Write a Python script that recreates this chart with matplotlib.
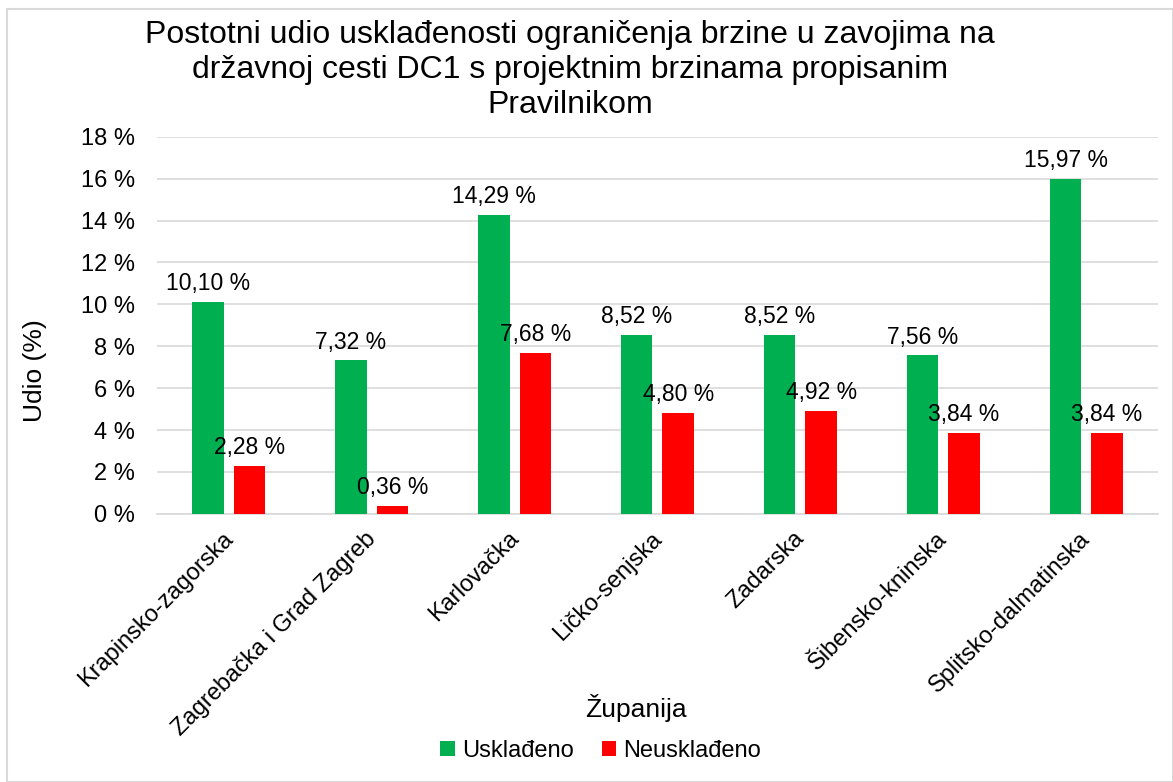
import numpy as np
import matplotlib.pyplot as plt
import matplotlib.transforms as mtransforms
from matplotlib.patches import Rectangle

plt.rcParams['font.family'] = ['Liberation Sans', 'DejaVu Sans']

# Data
zupanije = ['Krapinsko-zagorska', 'Zagrebačka i Grad Zagreb', 'Karlovačka',
            'Ličko-senjska', 'Zadarska', 'Šibensko-kninska', 'Splitsko-dalmatinska']
uskladeno = [10.10, 7.32, 14.29, 8.52, 8.52, 7.56, 15.97]
neuskladeno = [2.28, 0.36, 7.68, 4.80, 4.92, 3.84, 3.84]

green = '#00b050'
red = '#ff0000'

fig = plt.figure(figsize=(11.73, 7.82), dpi=100)
ax = fig.add_axes([0.134, 0.343, 0.853, 0.482])

x = np.arange(len(zupanije))
w = 0.22
off = 0.145
b1 = ax.bar(x - off, uskladeno, w, color=green, label='Usklađeno', zorder=3)
b2 = ax.bar(x + off, neuskladeno, w, color=red, label='Neusklađeno', zorder=3)

def fmt(v):
    return f'{v:.2f}'.replace('.', ',') + ' %'

for bars, vals in [(b1, uskladeno), (b2, neuskladeno)]:
    for bar, v in zip(bars, vals):
        ax.annotate(fmt(v), (bar.get_x() + bar.get_width() / 2, v),
                    xytext=(0, 5), textcoords='offset points',
                    ha='center', va='bottom', fontsize=16.5)

ax.set_xlim(-0.5, len(zupanije) - 0.5)
ax.set_ylim(0, 18)
ax.set_yticks(np.arange(0, 19, 2))
ax.set_yticklabels([f'{t} %' for t in range(0, 19, 2)], fontsize=17)
ax.set_xticks(x)
ax.set_xticklabels(zupanije, rotation=45, ha='right', rotation_mode='anchor', fontsize=17)
ax.tick_params(axis='y', length=0, pad=16)
ax.tick_params(axis='x', length=0, pad=10)
# nudge rotated category labels a little to the left
shift = mtransforms.ScaledTranslation(-7 / 100, 0, fig.dpi_scale_trans)
for lbl in ax.get_xticklabels():
    lbl.set_transform(lbl.get_transform() + shift)
ax.grid(axis='y', color='#d9d9d9', linewidth=1.2, zorder=0)
for s in ['top', 'right', 'left']:
    ax.spines[s].set_visible(False)
ax.spines['bottom'].set_color('#d9d9d9')
ax.spines['bottom'].set_linewidth(1.2)

fig.text(0.030, 0.526, 'Udio (%)', rotation=90, ha='center', va='center', fontsize=19)
fig.text(0.542, 0.095, 'Županija', ha='center', va='center', fontsize=19)

fig.text(0.486, 0.910, 'Postotni udio usklađenosti ograničenja brzine u zavojima na\n'
         'državnoj cesti DC1 s projektnim brzinama propisanim\n'
         'Pravilnikom', ha='center', va='center', fontsize=23, linespacing=1.22)

fig.legend(handles=[b1, b2], loc='center', bbox_to_anchor=(0.512, 0.040), ncol=2,
           frameon=False, fontsize=17, handlelength=0.6, handleheight=0.6,
           handletextpad=0.3, columnspacing=1.2)

fig.patches.append(Rectangle((0.006, 0.0), 0.994, 0.988, transform=fig.transFigure,
                             fill=False, edgecolor='#d9d9d9', linewidth=1.5))

plt.savefig('out.png', dpi=100)
